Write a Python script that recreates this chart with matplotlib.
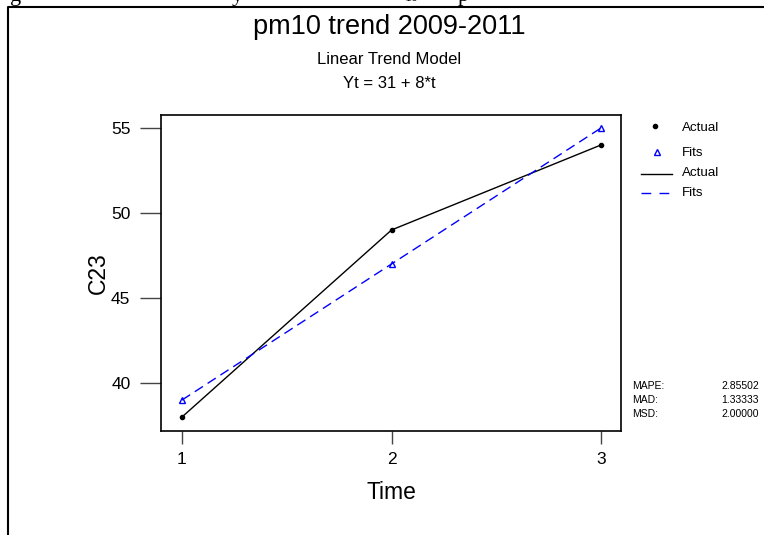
import matplotlib
matplotlib.use("Agg")
import matplotlib.pyplot as plt
from matplotlib.lines import Line2D

plt.rcParams['font.family'] = ['Liberation Sans', 'DejaVu Sans']

time = [1, 2, 3]
actual = [38, 49, 54]
fits = [39, 47, 55]
yticks = [40, 45, 50, 55]
stat_names = ["MAPE:", "MAD:", "MSD:"]
stat_values = ["2.85502", "1.33333", "2.00000"]

W, H = 764, 535
fig = plt.figure(figsize=(W / 100, H / 100), dpi=100)
fig.patch.set_facecolor('white')

def fx(px):
    return px / W

def fy(py):
    return 1 - py / H

ax = fig.add_axes([fx(161), fy(431), fx(621) - fx(161), fy(115) - fy(431)])
ax.plot(time, actual, color='black', lw=1.0, zorder=2)
ax.plot(time, fits, color='blue', lw=1.0, dashes=(7, 4), zorder=2)
ax.plot(time, actual, 'o', color='black', ms=3, zorder=3)
ax.plot(time, fits, '^', mfc='none', mec='blue', ms=4, mew=1, zorder=3)

ax.set_xlim(0.9, 3.095)
ax.set_ylim(37.18, 55.76)
ax.set_xticks(time)
ax.set_yticks(yticks)
ax.tick_params(axis='y', length=15, width=1, color='#444444', labelsize=12.5, pad=7)
ax.tick_params(axis='x', length=9, width=1, color='#444444', labelsize=12.5, pad=6)
for s in ax.spines.values():
    s.set_linewidth(1.2)
ax.set_xlabel("Time", fontsize=16.5, labelpad=10)
ax.set_ylabel("C23", fontsize=16.5, labelpad=1)

# titles
fig.text(fx(389), fy(27), "pm10 trend 2009-2011", ha='center', va='center', fontsize=19.5)
fig.text(fx(389), fy(60), "Linear Trend Model", ha='center', va='center', fontsize=12)
fig.text(fx(389), fy(84), "Yt = 31 + 8*t", ha='center', va='center', fontsize=12)

# legend
fig.add_artist(Line2D([fx(655)], [fy(126)], marker='o', color='black', ms=3, ls='none'))
fig.text(fx(682), fy(128), "Actual", va='center', fontsize=9.6)
fig.add_artist(Line2D([fx(657)], [fy(152)], marker='^', mfc='none', mec='blue', ms=4, ls='none'))
fig.text(fx(682), fy(153), "Fits", va='center', fontsize=9.6)
fig.add_artist(Line2D([fx(641), fx(672)], [fy(174), fy(174)], color='black', lw=1))
fig.text(fx(682), fy(173), "Actual", va='center', fontsize=9.6)
fig.add_artist(Line2D([fx(641), fx(672)], [fy(193), fy(193)], color='blue', lw=1, dashes=(7, 6)))
fig.text(fx(682), fy(193), "Fits", va='center', fontsize=9.6)

# stats
for i, (n, v) in enumerate(zip(stat_names, stat_values)):
    yy = fy(386 + 14 * i)
    fig.text(fx(632), yy, n, va='center', fontsize=7.5)
    fig.text(fx(759), yy, v, va='center', ha='right', fontsize=7.5)

# outer frame
fig.add_artist(Line2D([fx(8), fx(8), 1.0], [0.0, fy(7), fy(7)], color='black', lw=1.5))

# clipped caption fragments at top (only their lower parts show, as in the reference)
for x, t in [(10, "g"), (232, "y"), (405, "10"), (458, "p")]:
    fig.text(fx(x), fy(1), t, va='baseline', fontsize=16 if t != "10" else 10,
             family='Liberation Serif')

fig.savefig("out.png", dpi=100)
